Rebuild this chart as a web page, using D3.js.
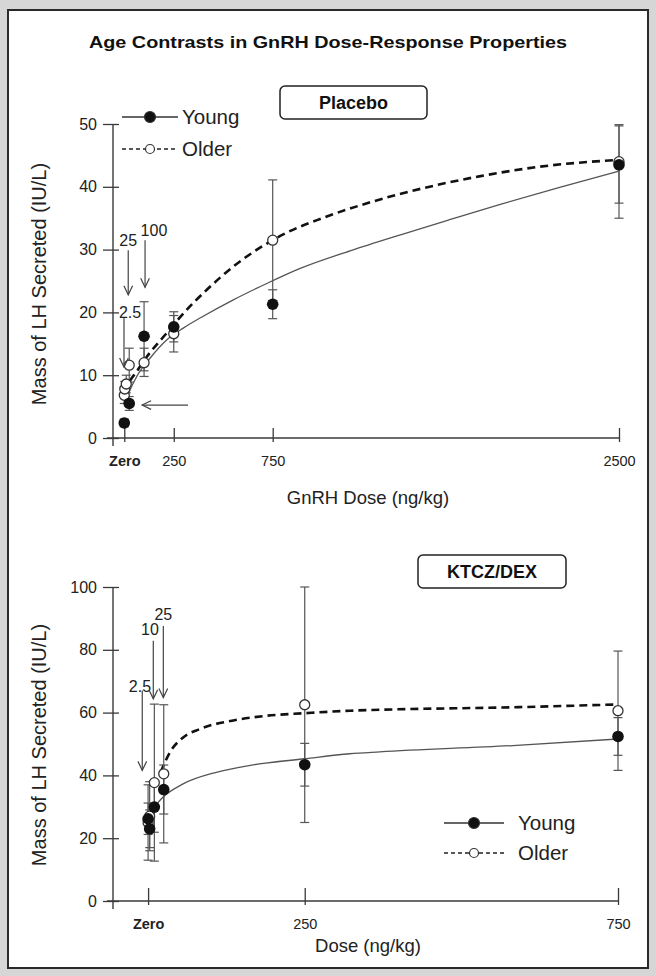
<!DOCTYPE html>
<html><head><meta charset="utf-8">
<script src="https://cdn.jsdelivr.net/npm/d3@7"></script>
<style>
html,body{margin:0;padding:0;background:#d6d6d6;}
svg{display:block;font-family:"Liberation Sans",Arial,sans-serif;}
</style></head><body>
<svg id="c" width="656" height="976"></svg>
<script>
// ---------- DATA ----------
const title = "Age Contrasts in GnRH Dose-Response Properties";
// Placebo panel
const topXTicks = [0, 250, 750, 2500];
const topXTickLabels = ["Zero", "250", "750", "2500"];
const topYTicks = [0, 10, 20, 30, 40, 50];
const topYoungDose = [0, 25, 100, 250, 750, 2500];
const topYoungVal  = [2.4, 5.5, 16.2, 17.7, 21.3, 43.5];
const topYoungLo   = [1.8, 4.4, 10.7, 15.3, 19.0, 37.4];
const topYoungHi   = [3.0, 6.6, 21.7, 20.1, 23.6, 49.7];
const topOlderDose = [0, 2.5, 10, 25, 100, 250, 750, 2500];
const topOlderVal  = [6.8, 7.8, 8.6, 11.6, 12.0, 16.6, 31.5, 44.0];
const topOlderLo   = [5.5, 6.6, 7.2, 8.9, 9.8, 13.7, 21.9, 35.0];
const topOlderHi   = [8.1, 9.0, 10.0, 14.3, 14.3, 19.5, 41.1, 49.9];
const topYoungCurve = [[0,5.3],[20,7.0],[63,9.8],[130,12.7],[214,15.6],[298,17.5],[383,19.1],[551,22.0],[720,24.6],[889,27.0],[1141,29.8],[1400,32.4],[1648,34.8],[1900,37.2],[2200,39.9],[2500,42.5]];
const topOlderCurve = [[0,7.2],[25,8.9],[63,10.6],[113,12.9],[214,16.7],[315,20.4],[417,23.6],[551,27.3],[686,30.3],[821,32.7],[1000,35.0],[1250,37.6],[1500,39.7],[1800,41.7],[2100,43.2],[2500,44.3]];
const topNotes = [
  {label:"25",  tx:20,  ty:31.5, ax:20,  ay1:29.9, ax2:20,  ay2:22.8},
  {label:"100", tx:150, ty:33.1, ax:105, ay1:31.5, ax2:105, ay2:24.0},
  {label:"2.5", tx:29,  ty:20.1, ax:-1.5,ay1:19.1, ax2:-1.5,ay2:11.3},
  {label:"",    tx:0,   ty:0,    ax:322, ay1:5.25, ax2:90,  ay2:5.25}
];
// KTCZ/DEX panel
const botXTicks = [0, 250, 750];
const botXTickLabels = ["Zero", "250", "750"];
const botYTicks = [0, 20, 40, 60, 80, 100];
const botYoungDose = [0, 2.5, 10, 25, 250, 750];
const botYoungVal  = [26.2, 23.0, 29.9, 35.5, 43.4, 52.4];
const botYoungErr  = [5.0, 6.0, 8.0, 7.8, 6.8, 6.0];
const botOlderDose = [0, 2.5, 10, 25, 250, 750];
const botOlderVal  = [25.0, 27.0, 37.7, 40.5, 62.5, 60.6];
const botOlderErr  = [12.0, 11.0, 25.0, 22.0, 37.5, 19.0];
const botYoungCurve = [[8,29.5],[24,33.1],[56,37.3],[109,41.0],[163,43.2],[250,45.3],[322,46.9],[370,47.5],[582,49.5],[750,51.6]];
const botOlderCurve = [[20,41.0],[35,47.4],[56,52.1],[83,54.8],[136,57.5],[189,59.0],[250,59.8],[322,60.6],[370,60.9],[583,61.7],[750,62.6]];
const botNotes = [
  {label:"2.5", tx:-13, ty:68.6, ax:-9.3, ay1:67.0, ax2:-9.3, ay2:41.6},
  {label:"10",  tx:3,   ty:86.7, ax:8.3,  ay1:82.9, ax2:8.3,  ay2:64.4},
  {label:"25",  tx:24.3,ty:91.4, ax:24.3, ay1:87.6, ax2:24.3, ay2:64.8}
];
const legendLabels = ["Young", "Older"];

// ---------- DRAW ----------
const svg = d3.select("#c");
const FONT = '"Liberation Sans",Arial,sans-serif';
const AX = "#3a3a3a", GR = "#555";

svg.append("rect").attr("x",8).attr("y",10).attr("width",640).attr("height",958)
  .attr("fill","#fff").attr("stroke","#2a2a2a").attr("stroke-width",2);

svg.append("text").attr("x",328).attr("y",48).attr("text-anchor","middle")
  .attr("font-size",17).attr("font-weight","bold").attr("fill","#111")
  .attr("textLength",478).attr("lengthAdjust","spacingAndGlyphs").text(title);

function panel(o){
  const g = svg.append("g");
  const x = d3.scaleLinear().domain(o.xDomain).range(o.xRange);
  const y = d3.scaleLinear().domain(o.yDomain).range(o.yRange);
  const x0 = o.xRange[0], y0 = o.yRange[0];
  // axes lines
  g.append("line").attr("x1",x0).attr("x2",x0).attr("y1",o.yRange[1]).attr("y2",y0+8).attr("stroke",AX).attr("stroke-width",1.4);
  g.append("line").attr("x1",x0-6).attr("x2",o.xRange[1]).attr("y1",y0).attr("y2",y0).attr("stroke",AX).attr("stroke-width",1.4);
  // y axis
  const ya = g.append("g").attr("transform",`translate(${x0},0)`)
    .call(d3.axisLeft(y).tickValues(o.yTicks).tickSize(10).tickPadding(6));
  ya.select(".domain").remove();
  ya.selectAll(".tick line").attr("x2",-10).attr("x1",6).attr("stroke",AX).attr("stroke-width",1.3);
  ya.selectAll(".tick text").attr("font-family",FONT).attr("font-size",16).attr("fill","#222").attr("x",-16);
  // x axis
  const xa = g.append("g").attr("transform",`translate(0,${y0})`)
    .call(d3.axisBottom(x).tickValues(o.xTicks).tickFormat((d,i)=>o.xTickLabels[i]).tickSize(4).tickPadding(8));
  xa.select(".domain").remove();
  xa.selectAll(".tick line").attr("y1",-o.xTickUp).attr("y2",4).attr("stroke",AX).attr("stroke-width",1.3);
  xa.selectAll(".tick text").attr("font-family",FONT).attr("font-size",14.5).attr("fill","#222")
    .attr("y",o.xLabelDy).attr("font-weight",(d,i)=>i===0?"bold":"normal");
  // axis titles
  g.append("text").attr("x",o.xTitleX).attr("y",o.xTitleY).attr("text-anchor","middle")
    .attr("font-size",18.5).attr("fill","#222").text(o.xTitle);
  g.append("text").attr("transform",`translate(46,${o.yTitleY}) rotate(-90)`).attr("text-anchor","middle")
    .attr("font-size",20).attr("fill","#222").text("Mass of LH Secreted (IU/L)");
  // box label
  g.append("rect").attr("x",o.box[0]).attr("y",o.box[1]).attr("width",o.box[2]).attr("height",o.box[3])
    .attr("rx",5).attr("fill","#fff").attr("stroke","#222").attr("stroke-width",1.5);
  g.append("text").attr("x",o.box[0]+o.box[2]/2).attr("y",o.box[1]+o.box[3]/2+6.5).attr("text-anchor","middle")
    .attr("font-size",18).attr("font-weight","bold").attr("fill","#111").text(o.boxLabel);
  // curves
  const line = d3.line().x(d=>x(d[0])).y(d=>y(d[1])).curve(d3.curveMonotoneX);
  g.append("path").attr("d",line(o.yc)).attr("fill","none").attr("stroke","#555").attr("stroke-width",1.3);
  g.append("path").attr("d",line(o.oc)).attr("fill","none").attr("stroke","#111").attr("stroke-width",2.6).attr("stroke-dasharray","8,5");
  // error bars
  function ebars(dose, lo, hi){
    dose.forEach((d,i)=>{
      const cx = x(d);
      g.append("line").attr("x1",cx).attr("x2",cx).attr("y1",y(lo[i])).attr("y2",y(hi[i])).attr("stroke",GR).attr("stroke-width",1.2);
      [lo[i],hi[i]].forEach(v=>g.append("line").attr("x1",cx-4.5).attr("x2",cx+4.5).attr("y1",y(v)).attr("y2",y(v)).attr("stroke",GR).attr("stroke-width",1.2));
    });
  }
  ebars(o.oDose,o.oLo,o.oHi);
  ebars(o.yDose,o.yLo,o.yHi);
  // points
  g.selectAll(".op").data(o.oDose).join("circle").attr("cx",d=>x(d)).attr("cy",(d,i)=>y(o.oVal[i]))
    .attr("r",5).attr("fill","#fff").attr("stroke","#333").attr("stroke-width",1.3);
  g.selectAll(".yp").data(o.yDose).join("circle").attr("cx",d=>x(d)).attr("cy",(d,i)=>y(o.yVal[i]))
    .attr("r",5.8).attr("fill","#111");
  // annotations
  o.notes.forEach(n=>{
    if(n.label) g.append("text").attr("x",x(n.tx)).attr("y",y(n.ty)+6).attr("text-anchor","middle")
      .attr("font-size",16).attr("fill","#222").text(n.label);
    const X1=x(n.ax),Y1=y(n.ay1),X2=x(n.ax2),Y2=y(n.ay2);
    g.append("line").attr("x1",X1).attr("y1",Y1).attr("x2",X2).attr("y2",Y2).attr("stroke","#444").attr("stroke-width",1.2);
    const ang=Math.atan2(Y2-Y1,X2-X1), L=10, W=0.45;
    const p=[[X2-L*Math.cos(ang-W),Y2-L*Math.sin(ang-W)],[X2,Y2],[X2-L*Math.cos(ang+W),Y2-L*Math.sin(ang+W)]];
    g.append("path").attr("d",d3.line()(p)).attr("fill","none").attr("stroke","#444").attr("stroke-width",1.2);
  });
  // legend
  legendLabels.forEach((lab,i)=>{
    const ly = o.leg[1] + i*o.leg[3];
    const lx = o.leg[0];
    g.append("line").attr("x1",lx).attr("x2",lx+o.leg[2]).attr("y1",ly).attr("y2",ly)
      .attr("stroke",i===0?"#333":"#222").attr("stroke-width",i===0?1.3:1.6).attr("stroke-dasharray",i===0?null:"4,3");
    g.append("circle").attr("cx",lx+o.leg[2]/2).attr("cy",ly).attr("r",i===0?5.5:4.5)
      .attr("fill",i===0?"#111":"#fff").attr("stroke","#333").attr("stroke-width",1.2);
    g.append("text").attr("x",lx+o.leg[2]+o.leg[4]).attr("y",ly+7).attr("font-size",20.5).attr("fill","#222").text(lab);
  });
}

panel({
  xDomain:[-57,2500], xRange:[113,619], yDomain:[0,50], yRange:[438,124],
  xTicks:topXTicks, xTickLabels:topXTickLabels, yTicks:topYTicks, xTickUp:10, xLabelDy:18,
  xTitle:"GnRH Dose (ng/kg)", xTitleX:368, xTitleY:504, yTitleY:284,
  box:[280,86,147,33], boxLabel:"Placebo",
  yDose:topYoungDose, yVal:topYoungVal, yLo:topYoungLo, yHi:topYoungHi,
  oDose:topOlderDose, oVal:topOlderVal, oLo:topOlderLo, oHi:topOlderHi,
  yc:topYoungCurve, oc:topOlderCurve, notes:topNotes,
  leg:[122,117,56,32,4]
});

panel({
  xDomain:[-56,750], xRange:[113,618], yDomain:[0,100], yRange:[901,587],
  xTicks:botXTicks, xTickLabels:botXTickLabels, yTicks:botYTicks, xTickUp:13, xLabelDy:18,
  xTitle:"Dose (ng/kg)", xTitleX:368, xTitleY:952, yTitleY:745,
  box:[418,555,148,33], boxLabel:"KTCZ/DEX",
  yDose:botYoungDose, yVal:botYoungVal,
  yLo:botYoungVal.map((v,i)=>v-botYoungErr[i]), yHi:botYoungVal.map((v,i)=>v+botYoungErr[i]),
  oDose:botOlderDose, oVal:botOlderVal,
  oLo:botOlderVal.map((v,i)=>v-botOlderErr[i]), oHi:botOlderVal.map((v,i)=>v+botOlderErr[i]),
  yc:botYoungCurve, oc:botOlderCurve, notes:botNotes,
  leg:[444,823,60,30,14]
});
</script></body></html>
